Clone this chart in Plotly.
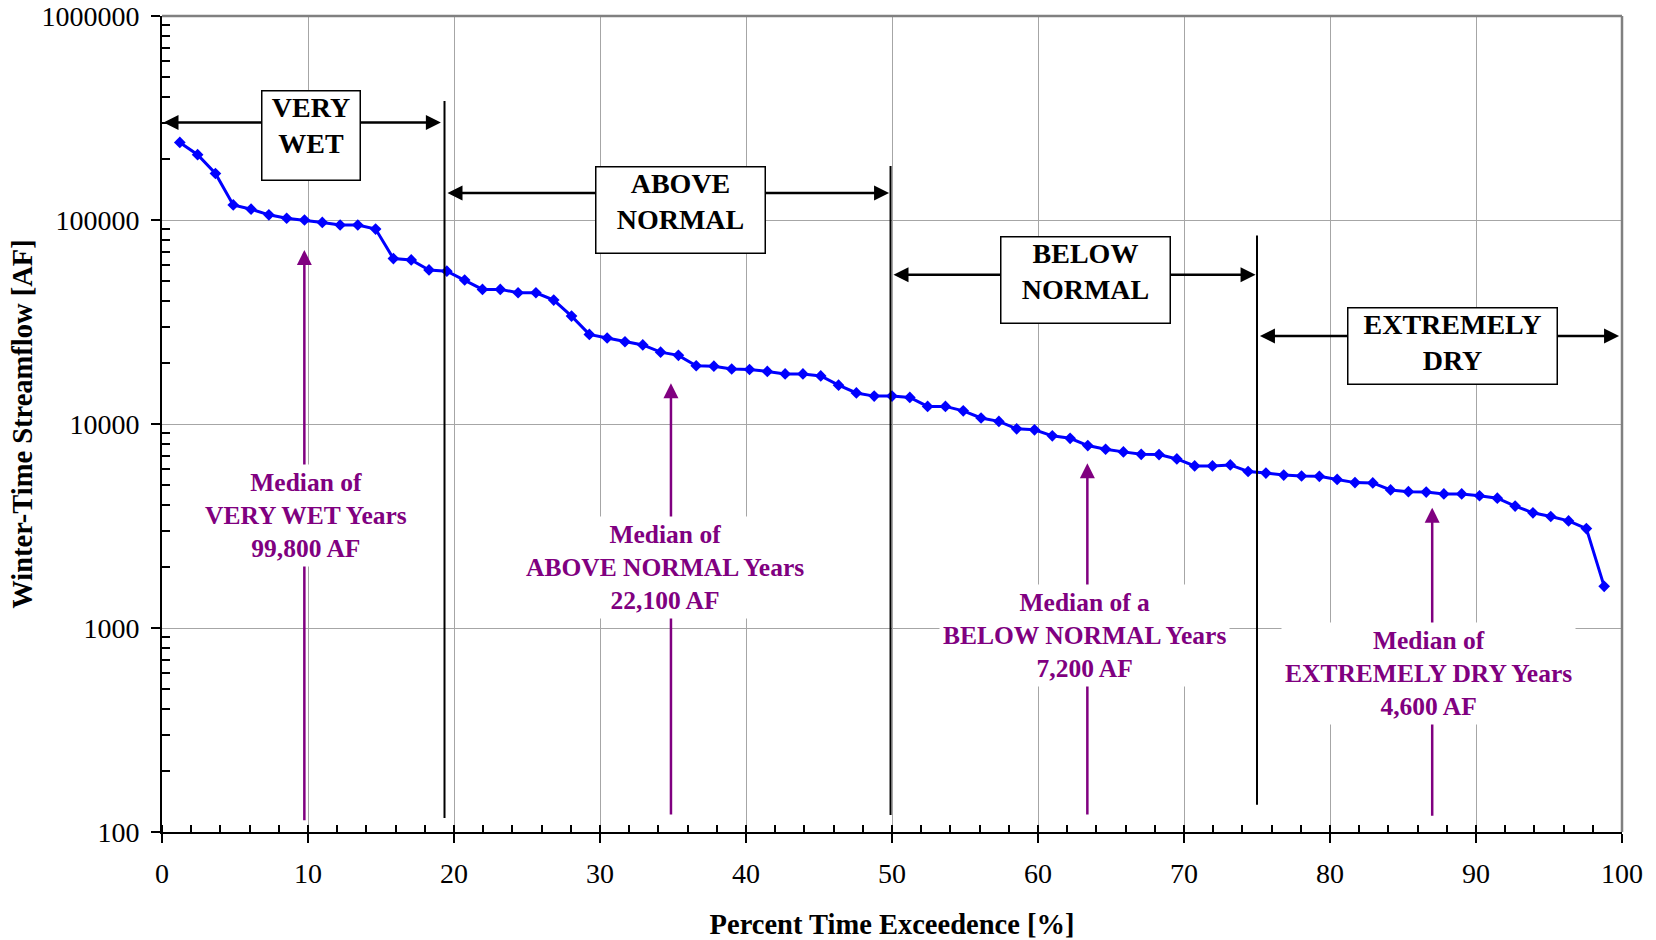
import plotly.graph_objects as go

# ---- data ----
exceed_pct = [1.22, 2.44, 3.66, 4.88, 6.10, 7.32, 8.54, 9.76, 10.98, 12.20,
              13.41, 14.63, 15.85, 17.07, 18.29, 19.51, 20.73, 21.95, 23.17, 24.39,
              25.61, 26.83, 28.05, 29.27, 30.49, 31.71, 32.93, 34.15, 35.37, 36.59,
              37.80, 39.02, 40.24, 41.46, 42.68, 43.90, 45.12, 46.34, 47.56, 48.78,
              50.00, 51.22, 52.44, 53.66, 54.88, 56.10, 57.32, 58.54, 59.76, 60.98,
              62.20, 63.41, 64.63, 65.85, 67.07, 68.29, 69.51, 70.73, 71.95, 73.17,
              74.39, 75.61, 76.83, 78.05, 79.27, 80.49, 81.71, 82.93, 84.15, 85.37,
              86.59, 87.80, 89.02, 90.24, 91.46, 92.68, 93.90, 95.12, 96.34, 97.56,
              98.78]
streamflow_af = [240000, 209000, 169000, 118500, 113000, 106000, 102000, 100000, 97300, 94500,
                 94500, 90300, 64700, 63700, 56900, 56100, 50800, 45700, 45700, 44000,
                 44000, 40500, 33800, 27500, 26400, 25300, 24400, 22500, 21700, 19300,
                 19200, 18600, 18500, 18100, 17600, 17600, 17200, 15500, 14200, 13700,
                 13700, 13500, 12200, 12200, 11600, 10700, 10300, 9470, 9360, 8750,
                 8510, 7840, 7520, 7300, 7100, 7080, 6740, 6230, 6230, 6300,
                 5850, 5750, 5620, 5560, 5540, 5350, 5160, 5140, 4750, 4660,
                 4640, 4540, 4540, 4450, 4330, 3960, 3670, 3520, 3350, 3070,
                 1600]

x_tick_vals = [0, 10, 20, 30, 40, 50, 60, 70, 80, 90, 100]
y_tick_vals = [100, 1000, 10000, 100000, 1000000]
y_tick_text = ["100", "1000", "10000", "100000", "1000000"]

# class boundaries (% exceedence)
class_bounds = [19.35, 49.9, 75.0]
class_labels = ["VERY<br>WET", "ABOVE<br>NORMAL", "BELOW<br>NORMAL", "EXTREMELY<br>DRY"]
median_labels = ["Median of<br>VERY WET Years<br>99,800 AF",
                 "Median of<br>ABOVE NORMAL Years<br>22,100 AF",
                 "Median of a<br>BELOW NORMAL Years<br>7,200 AF",
                 "Median of<br>EXTREMELY DRY Years<br>4,600 AF"]

FONT = "Liberation Serif"
PURPLE = "#800080"
LOG_MIN, LOG_MAX = 2, 6

fig = go.Figure()
fig.add_trace(go.Scatter(
    x=exceed_pct, y=streamflow_af, mode="lines+markers",
    line=dict(color="#0000FF", width=3),
    marker=dict(symbol="diamond", size=9, color="#0000FF"),
    showlegend=False, hoverinfo="x+y"))

minor_y = [m * 10 ** e for e in range(LOG_MIN, LOG_MAX) for m in range(2, 10)]

fig.update_layout(
    width=1656, height=940,
    margin=dict(l=162, r=34, t=16, b=108),
    paper_bgcolor="white", plot_bgcolor="white",
    font=dict(family=FONT, color="black"),
    xaxis=dict(
        range=[0, 100], tickmode="array", tickvals=x_tick_vals, automargin=False,
        showgrid=True, gridcolor="#a6a6a6", gridwidth=1, zeroline=False,
        showline=True, linecolor="black", linewidth=2,
        ticks="outside", ticklen=9, tickwidth=1.5, tickcolor="black",
        minor=dict(dtick=2, ticks="inside", ticklen=7, tickwidth=1.5,
                   tickcolor="black", showgrid=False),
        tickfont=dict(size=28, family=FONT), ticklabelstandoff=6,
        title=dict(text="<b>Percent Time Exceedence [%]</b>",
                   font=dict(size=28.5, family=FONT), standoff=26),
    ),
    yaxis=dict(
        type="log", range=[LOG_MIN, LOG_MAX], tickmode="array", automargin=False,
        tickvals=y_tick_vals, ticktext=y_tick_text,
        showgrid=True, gridcolor="#a6a6a6", gridwidth=1, zeroline=False,
        showline=True, linecolor="black", linewidth=2,
        ticks="outside", ticklen=9, tickwidth=1.5, tickcolor="black",
        minor=dict(tickmode="array", tickvals=minor_y, ticks="inside", ticklen=8,
                   tickwidth=1.5, tickcolor="black", showgrid=False),
        tickfont=dict(size=28, family=FONT), ticklabelstandoff=6,
        title=dict(text="<b>Winter-Time Streamflow [AF]</b>",
                   font=dict(size=28.5, family=FONT), standoff=0),
    ),
)


def ypaper(logv):
    return (logv - LOG_MIN) / (LOG_MAX - LOG_MIN)


shapes = []
# grey top / right frame
shapes.append(dict(type="line", xref="paper", yref="paper", x0=0, x1=1, y0=1, y1=1,
                   line=dict(color="#808080", width=2.5)))
shapes.append(dict(type="line", xref="paper", yref="paper", x0=1, x1=1, y0=0, y1=1,
                   line=dict(color="#808080", width=2.5)))
# class boundary lines (extent given in log10 of flow)
bound_extent = [(2.069, 5.583), (2.083, 5.265), (2.134, 4.924)]
for xb, (ylo, yhi) in zip(class_bounds, bound_extent):
    shapes.append(dict(type="line", xref="x", yref="paper", x0=xb, x1=xb,
                       y0=ypaper(ylo), y1=ypaper(yhi),
                       line=dict(color="black", width=2)))
fig.update_layout(shapes=shapes)

ann = []
# double-headed range arrows
range_arrows = [(0.0, 19.1, 5.478), (19.45, 49.8, 5.132), (50.0, 74.9, 4.732), (75.1, 99.8, 4.431)]
for x0, x1, yl in range_arrows:
    ann.append(dict(x=x1, y=yl, ax=x0, ay=yl, xref="x", yref="y", axref="x", ayref="y",
                    text="", showarrow=True, arrowside="end+start",
                    arrowhead=2, startarrowhead=2, arrowsize=1.2, startarrowsize=1.2,
                    arrowwidth=2.5, arrowcolor="black", standoff=0, startstandoff=0))
# class label boxes
boxes = [(10.2, 5.414, 97, 88), (35.48, 5.050, 168, 85), (63.25, 4.707, 168, 85), (88.36, 4.382, 208, 75)]
for lbl, (bx, by, bw, bh) in zip(class_labels, boxes):
    ann.append(dict(x=bx, y=by, xref="x", yref="y", text="<b>" + lbl + "</b>",
                    showarrow=False, xanchor="center", yanchor="middle", valign="top",
                    width=bw, height=bh, borderpad=0, bgcolor="white",
                    bordercolor="black", borderwidth=1.5,
                    font=dict(size=28, family=FONT, color="black")))
# median arrows (purple)
median_arrows = [(9.75, 4.853, 2.050), (34.86, 4.20, 2.078), (63.38, 3.807, 2.078), (87.0, 3.590, 2.072)]
for mx, ytip, ybase in median_arrows:
    ann.append(dict(x=mx, y=ytip, ax=mx, ay=ybase, xref="x", yref="y", axref="x", ayref="y",
                    text="", showarrow=True, arrowhead=2, arrowsize=1.2, arrowwidth=2.5,
                    arrowcolor=PURPLE, standoff=0))
# median texts
median_pos = [(9.86, 3.55), (34.45, 3.299), (63.19, 2.961), (86.78, 2.775)]
for lbl, (tx, ty) in zip(median_labels, median_pos):
    ann.append(dict(x=tx, y=ty, xref="x", yref="y", text="<b>" + lbl + "</b>",
                    showarrow=False, xanchor="center", yanchor="middle",
                    bgcolor="white", borderpad=3,
                    font=dict(size=25.5, family=FONT, color=PURPLE)))
fig.update_layout(annotations=ann)

fig.write_html("out.html")
